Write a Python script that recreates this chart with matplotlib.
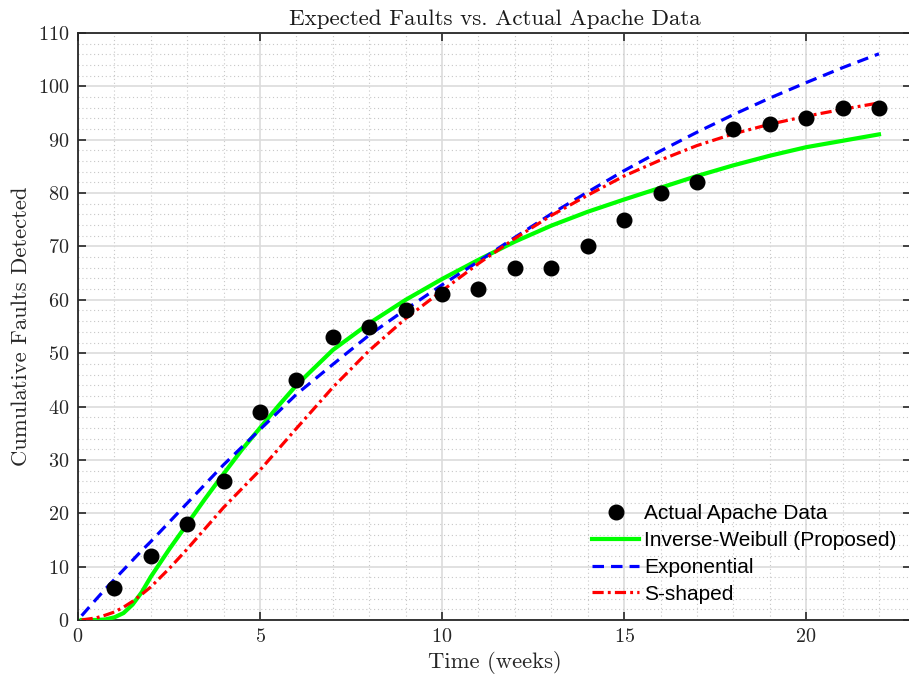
import matplotlib
matplotlib.use("Agg")
from matplotlib import pyplot as plt
from matplotlib.ticker import MultipleLocator

# weekly cumulative faults, Apache data
weeks = [1, 2, 3, 4, 5, 6, 7, 8, 9, 10, 11, 12, 13, 14, 15, 16, 17, 18, 19, 20, 21, 22]
faults = [6, 12, 18, 26, 39, 45, 53, 55, 58, 61, 62, 66, 66, 70, 75, 80, 82, 92, 93, 94, 96, 96]

# model curves
t_fit = [0.1, 0.5, 0.75, 1, 1.25, 1.5, 1.75, 2, 2.5, 3, 3.5, 4, 4.5, 5, 5.5, 6, 7, 8, 9, 10,
         11, 12, 13, 14, 15, 16, 17, 18, 19, 20, 21, 22]
inv_weibull = [0.0, 0.0, 0.1, 0.5, 1.3, 2.9, 5.2, 8.1, 13.2, 18.0, 22.8, 27.4, 31.9, 36.0, 40.1, 44.0,
               50.6, 55.6, 60.0, 63.9, 67.5, 70.9, 73.9, 76.5, 78.8, 81.0, 83.2, 85.2, 87.0, 88.6, 89.8, 91.0]
exponential = [0.8, 3.9, 5.8, 7.6, 9.4, 11.2, 13.0, 14.7, 18.3, 21.9, 25.5, 29.1, 32.4, 35.7, 39.0, 42.3,
               47.9, 53.4, 58.2, 62.8, 67.2, 71.7, 76.1, 80.2, 84.2, 87.9, 91.4, 94.7, 97.8, 100.7, 103.5, 106.1]
s_shaped = [0.0, 0.4, 0.9, 1.5, 2.4, 3.5, 4.8, 6.2, 9.6, 13.3, 17.2, 21.1, 24.6, 28.1, 32.0, 35.9,
            43.6, 50.5, 56.5, 61.7, 66.8, 71.5, 75.8, 79.6, 83.2, 86.2, 88.9, 91.1, 92.9, 94.4, 95.7, 96.9]

plt.rcParams["font.family"] = "cmr10"
plt.rcParams["axes.formatter.use_mathtext"] = True


def main():
    fig = plt.figure(figsize=(9.09, 6.84), dpi=100)
    # right spine sits just past the image edge, as in the original export
    ax = fig.add_axes([78 / 909, 64 / 684, 833 / 909, 587 / 684])

    ax.plot(weeks, faults, "o", color="black", ms=10.5, label="Actual Apache Data", zorder=5)
    ax.plot(t_fit, inv_weibull, "-", color="#00ff00", lw=3.0, label="Inverse-Weibull (Proposed)", zorder=4)
    ax.plot(t_fit, exponential, "--", color="#0000ff", lw=2.3, dashes=(3.6, 2.2),
            label="Exponential", zorder=4)
    ax.plot(t_fit, s_shaped, "-.", color="#ff0000", lw=2.3, dashes=(3.5, 1.3, 0.9, 1.3),
            label="S-shaped", zorder=4)

    ax.set_xlim(0, 22.88)
    ax.set_ylim(0, 110)
    ax.xaxis.set_major_locator(MultipleLocator(5))
    ax.xaxis.set_minor_locator(MultipleLocator(1))
    ax.yaxis.set_major_locator(MultipleLocator(10))
    ax.yaxis.set_minor_locator(MultipleLocator(2))

    ax.grid(which="major", color="#dcdcdc", lw=1.2, ls="-")
    ax.grid(which="minor", color="#c8c8c8", lw=0.8, ls=(0, (1, 2.5)))
    ax.set_axisbelow(True)

    ax.tick_params(which="major", direction="in", length=6, width=1.2, color="#262626",
                   top=True, right=True, labelsize=14.5, labelcolor="#262626", pad=6)
    ax.tick_params(which="minor", length=0)
    for s in ax.spines.values():
        s.set_color("#262626")
        s.set_linewidth(1.3)

    ax.set_title("Expected Faults vs. Actual Apache Data", fontsize=16.5, pad=6, color="#1a1a1a")
    ax.set_xlabel("Time (weeks)", fontsize=16.3, color="#262626", labelpad=3)
    ax.set_ylabel("Cumulative Faults Detected", fontsize=16.3, color="#262626", labelpad=5)

    ax.legend(loc="lower right", bbox_to_anchor=(0.9952, 0.01), frameon=False, borderpad=0,
              handlelength=2.26, handletextpad=0.24, labelspacing=0.38,
              prop={"family": "Liberation Sans", "size": 15})

    fig.savefig("out.png", dpi=100)


if __name__ == "__main__":
    main()
